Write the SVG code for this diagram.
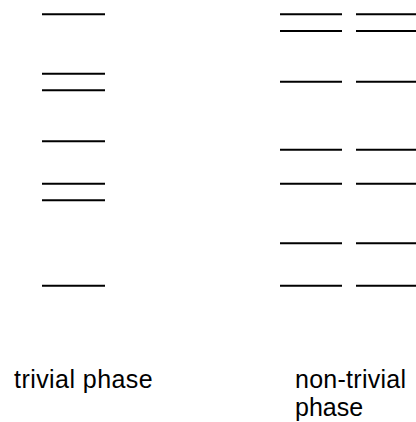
<svg xmlns="http://www.w3.org/2000/svg" width="416" height="422" viewBox="0 0 416 422">
<style>
.lvl{stroke:#000;stroke-width:2;fill:none}
.lbl{font-family:"Liberation Sans",Arial,sans-serif;font-size:25px;fill:#000}
</style>
<rect width="416" height="422" fill="#fff"/>
<g id="trivial">
<line class="lvl" x1="42" y1="14.3" x2="105" y2="14.3"/>
<line class="lvl" x1="42" y1="73.7" x2="105" y2="73.7"/>
<line class="lvl" x1="42" y1="90.3" x2="105" y2="90.3"/>
<line class="lvl" x1="42" y1="141.3" x2="105" y2="141.3"/>
<line class="lvl" x1="42" y1="183.7" x2="105" y2="183.7"/>
<line class="lvl" x1="42" y1="200.3" x2="105" y2="200.3"/>
<line class="lvl" x1="42" y1="285.7" x2="105" y2="285.7"/>
<text class="lbl" x="14" y="388" textLength="138.7" lengthAdjust="spacing">trivial phase</text>
</g>
<g id="nontrivial">
<g id="nt-left">
<line class="lvl" x1="280" y1="14.3" x2="342" y2="14.3"/>
<line class="lvl" x1="280" y1="31" x2="342" y2="31"/>
<line class="lvl" x1="280" y1="81.7" x2="342" y2="81.7"/>
<line class="lvl" x1="280" y1="149.7" x2="342" y2="149.7"/>
<line class="lvl" x1="280" y1="183.7" x2="342" y2="183.7"/>
<line class="lvl" x1="280" y1="243.3" x2="342" y2="243.3"/>
<line class="lvl" x1="280" y1="285.7" x2="342" y2="285.7"/>
</g>
<g id="nt-right">
<line class="lvl" x1="356" y1="14.3" x2="418" y2="14.3"/>
<line class="lvl" x1="356" y1="31" x2="418" y2="31"/>
<line class="lvl" x1="356" y1="81.7" x2="418" y2="81.7"/>
<line class="lvl" x1="356" y1="149.7" x2="418" y2="149.7"/>
<line class="lvl" x1="356" y1="183.7" x2="418" y2="183.7"/>
<line class="lvl" x1="356" y1="243.3" x2="418" y2="243.3"/>
<line class="lvl" x1="356" y1="285.7" x2="418" y2="285.7"/>
</g>
<text class="lbl" x="295" y="388" textLength="111" lengthAdjust="spacing">non-trivial</text>
<text class="lbl" x="295" y="416">phase</text>
</g>
<g id="connectors"/>
</svg>
